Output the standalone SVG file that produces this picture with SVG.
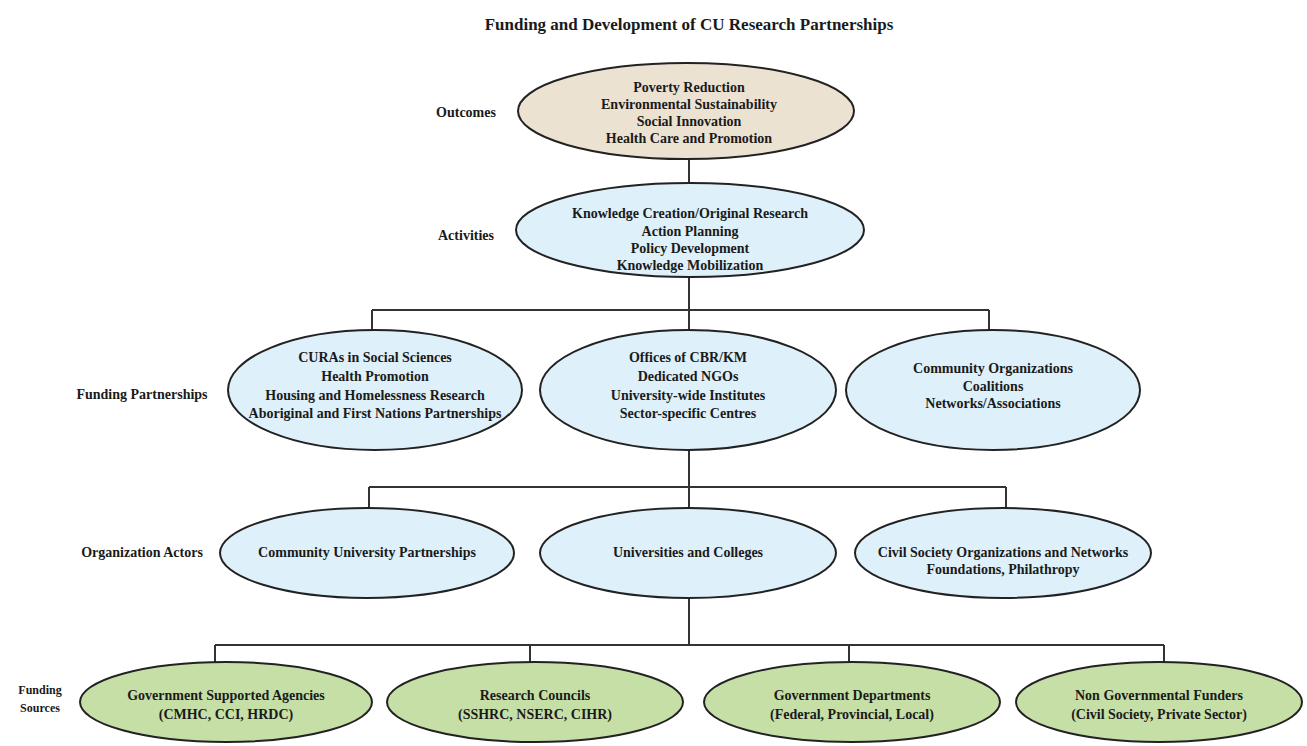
<svg xmlns="http://www.w3.org/2000/svg" width="1307" height="746" viewBox="0 0 1307 746">
<style>
text{font-family:"Liberation Serif","Times New Roman",serif;font-weight:bold;font-size:14px;fill:#1a1a1a;text-anchor:middle}
.title{font-size:17px}
.lbl{font-size:14px}
.sm{font-size:12px}
.out{fill:#ece2d1;stroke:#222;stroke-width:2}
.blue{fill:#def0f9;stroke:#222;stroke-width:2}
.green{fill:#c6dfa7;stroke:#222;stroke-width:2}
.conn{fill:none;stroke:#333;stroke-width:2}
</style>
<rect width="1307" height="746" fill="#fff"/>
<text id="title" class="title" x="689" y="30">Funding and Development of CU Research Partnerships</text>
<g id="connectors">
<path class="conn" d="M689 159V184"/>
<path class="conn" d="M689 277V310M372 310H989M372 310V330M689 310V330M989 310V330"/>
<path class="conn" d="M689 450V487M369 487H1006M369 487V508M689 487V508M1006 487V508"/>
<path class="conn" d="M689 598V645M215 645H1164M215 645V662M530 645V662M849 645V662M1164 645V662"/>
</g>
<g id="labels">
<text class="lbl" x="466" y="117">Outcomes</text>
<text class="lbl" x="466" y="240">Activities</text>
<text class="lbl" x="142" y="399">Funding Partnerships</text>
<text class="lbl" x="142" y="557">Organization Actors</text>
<text class="sm" x="40" y="694">Funding</text>
<text class="sm" x="40" y="712">Sources</text>
</g>
<g id="outcomes">
<ellipse class="out" cx="686" cy="111" rx="168" ry="48"/>
<text x="689" y="92">Poverty Reduction</text>
<text x="689" y="109">Environmental Sustainability</text>
<text x="689" y="126">Social Innovation</text>
<text x="689" y="143">Health Care and Promotion</text>
</g>
<g id="activities">
<ellipse class="blue" cx="690" cy="230" rx="174" ry="47"/>
<text x="690" y="218">Knowledge Creation/Original Research</text>
<text x="690" y="236">Action Planning</text>
<text x="690" y="253">Policy Development</text>
<text x="690" y="270">Knowledge Mobilization</text>
</g>
<g id="fp-left">
<ellipse class="blue" cx="375" cy="390" rx="147" ry="60"/>
<text x="375" y="362">CURAs in Social Sciences</text>
<text x="375" y="381">Health Promotion</text>
<text x="375" y="400">Housing and Homelessness Research</text>
<text x="375" y="418">Aboriginal and First Nations Partnerships</text>
</g>
<g id="fp-middle">
<ellipse class="blue" cx="688" cy="390" rx="148" ry="60"/>
<text x="688" y="362">Offices of CBR/KM</text>
<text x="688" y="381">Dedicated NGOs</text>
<text x="688" y="400">University-wide Institutes</text>
<text x="688" y="418">Sector-specific Centres</text>
</g>
<g id="fp-right">
<ellipse class="blue" cx="993" cy="390" rx="147" ry="60"/>
<text x="993" y="373">Community Organizations</text>
<text x="993" y="391">Coalitions</text>
<text x="993" y="408">Networks/Associations</text>
</g>
<g id="oa-left">
<ellipse class="blue" cx="367" cy="553" rx="147" ry="45"/>
<text x="367" y="557">Community University Partnerships</text>
</g>
<g id="oa-middle">
<ellipse class="blue" cx="688" cy="553" rx="148" ry="45"/>
<text x="688" y="557">Universities and Colleges</text>
</g>
<g id="oa-right">
<ellipse class="blue" cx="1003" cy="553" rx="148" ry="45"/>
<text x="1003" y="557">Civil Society Organizations and Networks</text>
<text x="1003" y="574">Foundations, Philathropy</text>
</g>
<g id="fs-1">
<ellipse class="green" cx="226" cy="702" rx="146" ry="40"/>
<text x="226" y="700">Government Supported Agencies</text>
<text x="226" y="719">(CMHC, CCI, HRDC)</text>
</g>
<g id="fs-2">
<ellipse class="green" cx="535" cy="702" rx="148" ry="40"/>
<text x="535" y="700">Research Councils</text>
<text x="535" y="719">(SSHRC, NSERC, CIHR)</text>
</g>
<g id="fs-3">
<ellipse class="green" cx="852" cy="702" rx="148" ry="40"/>
<text x="852" y="700">Government Departments</text>
<text x="852" y="719">(Federal, Provincial, Local)</text>
</g>
<g id="fs-4">
<ellipse class="green" cx="1159" cy="702" rx="143" ry="40"/>
<text x="1159" y="700">Non Governmental Funders</text>
<text x="1159" y="719">(Civil Society, Private Sector)</text>
</g>
</svg>
